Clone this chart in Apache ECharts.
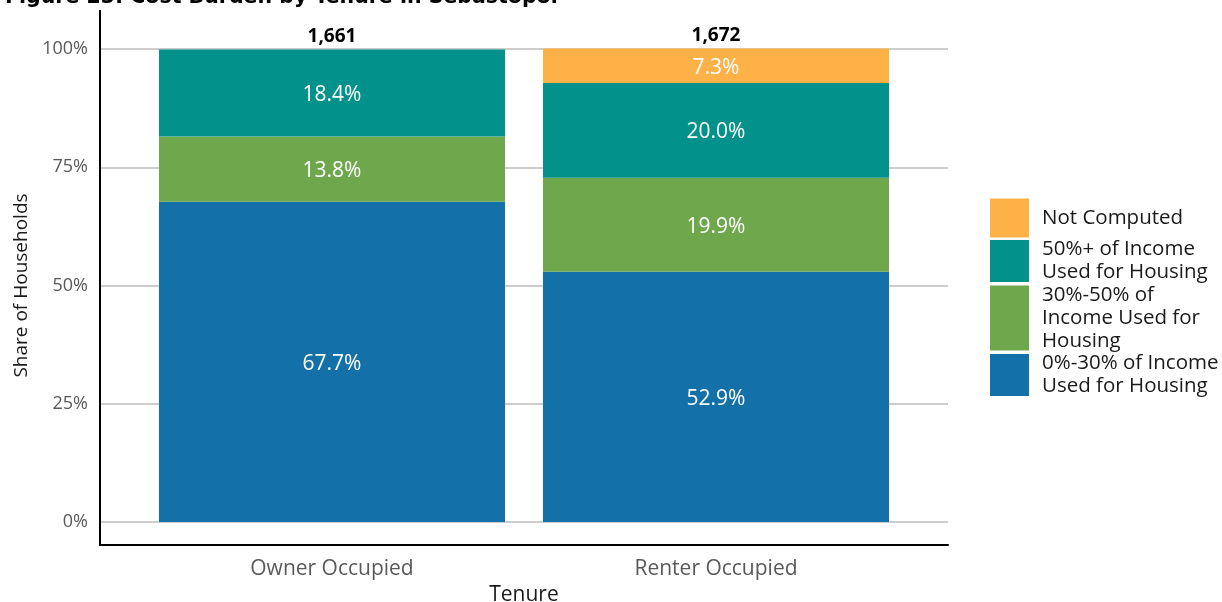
<!DOCTYPE html>
<html>
<head>
<meta charset="utf-8">
<script src="https://cdn.jsdelivr.net/npm/echarts@6/dist/echarts.min.js"></script>
<style>
  html, body { margin: 0; padding: 0; background: #fff; }
  #chart { width: 1222px; height: 602px; }
</style>
</head>
<body>
<div id="chart"></div>
<script>
// 数据
var categories = ['Owner Occupied', 'Renter Occupied'];
var totals = ['1,661', '1,672'];
var lowBurden = [67.7, 52.9];    // 0%-30%
var midBurden = [13.8, 19.9];    // 30%-50%
var highBurden = [18.4, 20.0];   // 50%+
var notComputed = [0, 7.3];
var yTicks = [0, 25, 50, 75, 100];

var names = {
  low: '0%-30% of Income Used for Housing',
  mid: '30%-50% of Income Used for Housing',
  high: '50%+ of Income Used for Housing',
  nc: 'Not Computed'
};
var legendText = {};
legendText[names.low] = '0%-30% of Income\nUsed for Housing';
legendText[names.mid] = '30%-50% of\nIncome Used for\nHousing';
legendText[names.high] = '50%+ of Income\nUsed for Housing';
legendText[names.nc] = 'Not Computed';

var font = '"Open Sans", "Noto Sans", sans-serif';

function makeBar(name, data, color) {
  return {
    name: name,
    type: 'bar',
    xAxisIndex: 1,
    yAxisIndex: 1,
    stack: 'share',
    barWidth: 346,
    clip: false,
    data: data,
    itemStyle: { color: color },
    label: {
      show: true,
      position: 'inside',
      offset: [0, 2],
      color: '#fff',
      fontFamily: font,
      fontSize: 21,
      formatter: function (p) { return p.value ? p.value.toFixed(1) + '%' : ''; }
    }
  };
}

function makeLegend(name, top, h) {
  return {
    data: [name],
    left: 990,
    top: top,
    padding: 0,
    orient: 'vertical',
    itemWidth: 39,
    itemHeight: h,
    icon: 'rect',
    selectedMode: false,
    formatter: function (n) { return legendText[n]; },
    textStyle: {
      fontFamily: font,
      fontSize: 20.5,
      lineHeight: 23,
      color: '#1a1a1a',
      padding: [0, 0, 0, 8]
    }
  };
}

var chart = echarts.init(document.getElementById('chart'), null, { renderer: 'canvas' });

var option = {
  animation: false,
  title: {
    text: 'Figure 23: Cost Burden by Tenure in Sebastopol',
    left: 0,
    top: -18,
    textStyle: { fontFamily: '"DejaVu Sans", Verdana, sans-serif', fontWeight: 'bold', fontSize: 20.5, color: '#000' }
  },
  grid: [
    { left: 100, right: 274, top: 49, bottom: 80, outerBoundsMode: 'none', containLabel: false },
    { left: 140, right: 314, top: 49, bottom: 80, outerBoundsMode: 'none', containLabel: false }
  ],
  xAxis: [
    {
      gridIndex: 0,
      type: 'value',
      min: 0,
      max: 1,
      offset: 23,
      axisLine: { show: true, onZero: false, lineStyle: { color: '#000', width: 2 } },
      axisTick: { show: false },
      axisLabel: { show: false },
      splitLine: { show: false },
      name: 'Tenure',
      nameLocation: 'middle',
      nameGap: 40,
      nameTextStyle: { fontFamily: font, fontSize: 21, color: '#1a1a1a' }
    },
    {
      gridIndex: 1,
      type: 'category',
      data: categories,
      offset: 23,
      axisLine: { show: false, onZero: false },
      axisTick: { show: false },
      axisLabel: { margin: 14, fontFamily: font, fontSize: 21, color: '#595959' }
    }
  ],
  yAxis: [
    {
      gridIndex: 0,
      type: 'value',
      min: yTicks[0],
      max: yTicks[yTicks.length - 1],
      interval: 25,
      axisLine: { show: false },
      axisTick: { show: false },
      axisLabel: { margin: 12, formatter: '{value}%', fontFamily: font, fontSize: 18, color: '#595959' },
      splitLine: { lineStyle: { color: '#bdbdbd', width: 1.5 } },
      name: 'Share of Households',
      nameLocation: 'middle',
      nameRotate: 90,
      nameGap: 69,
      nameTextStyle: { fontFamily: font, fontSize: 19, color: '#1a1a1a' }
    },
    { gridIndex: 1, type: 'value', min: 0, max: 100, show: false }
  ],
  legend: [
    makeLegend(names.nc, 198.5, 39),
    makeLegend(names.high, 238, 42),
    makeLegend(names.mid, 283.5, 65),
    makeLegend(names.low, 352, 42)
  ],
  graphic: [
    // 纵轴线（延伸到横轴）
    { type: 'line', shape: { x1: 100, y1: 10, x2: 100, y2: 546 }, style: { stroke: '#000', lineWidth: 2 }, z: 10 }
  ],
  series: [
    makeBar(names.low, lowBurden, '#1470a8'),
    makeBar(names.mid, midBurden, '#6fa74d'),
    makeBar(names.high, highBurden, '#02918b'),
    makeBar(names.nc, notComputed, '#fdb147'),
    {
      name: 'total',
      type: 'bar',
      xAxisIndex: 1,
      yAxisIndex: 1,
      stack: 'share',
      barWidth: 346,
      clip: false,
      data: [0, 0],
      itemStyle: { color: 'transparent' },
      label: {
        show: true,
        position: 'top',
        distance: 3,
        color: '#000',
        fontFamily: font,
        fontWeight: 'bold',
        fontSize: 19,
        formatter: function (p) { return totals[p.dataIndex]; }
      }
    }
  ]
};

chart.setOption(option);
</script>
</body>
</html>
